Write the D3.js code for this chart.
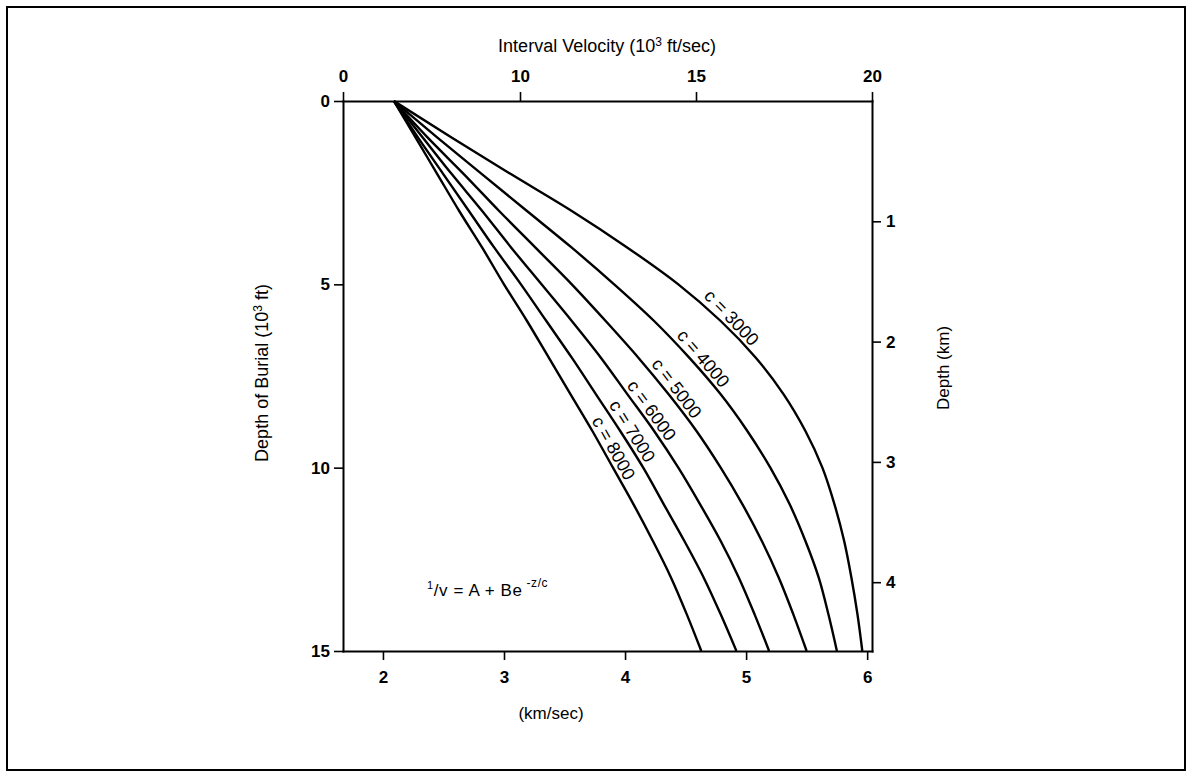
<!doctype html>
<html>
<head>
    <meta charset="utf-8">
    <script src="https://d3js.org/d3.v7.min.js"></script>
    <style>
        body { margin: 0; background: #fff; }
        text { font-family: "Liberation Sans", Arial, sans-serif; fill: #000; }
    </style>
</head>
<body>
    <script>
        var width = 1189;
        var height = 774;

        // depth of burial in 10^3 ft
        var depths = [0, 1, 2, 3, 4, 5, 6, 7, 8, 9, 10, 11, 12, 13, 14, 15];

        // interval velocity in km/sec
        var v3000 = [2.09, 2.57, 3.06, 3.56, 4.02, 4.44, 4.79, 5.08, 5.31, 5.49, 5.63, 5.73, 5.81, 5.87, 5.92, 5.96];
        var v4000 = [2.09, 2.45, 2.82, 3.19, 3.56, 3.91, 4.24, 4.53, 4.79, 5.01, 5.20, 5.36, 5.49, 5.60, 5.68, 5.75];
        var v5000 = [2.09, 2.37, 2.67, 2.96, 3.26, 3.56, 3.84, 4.11, 4.36, 4.59, 4.79, 4.97, 5.13, 5.27, 5.39, 5.50];
        var v6000 = [2.09, 2.33, 2.57, 2.82, 3.06, 3.31, 3.56, 3.80, 4.02, 4.24, 4.44, 4.62, 4.79, 4.94, 5.07, 5.19];
        var v7000 = [2.09, 2.29, 2.50, 2.71, 2.92, 3.14, 3.35, 3.56, 3.76, 3.96, 4.15, 4.32, 4.49, 4.65, 4.79, 4.92];
        var v8000 = [2.09, 2.27, 2.45, 2.63, 2.82, 3.00, 3.19, 3.37, 3.55, 3.73, 3.90, 4.07, 4.23, 4.38, 4.51, 4.63];

        var cValues = [3000, 4000, 5000, 6000, 7000, 8000];
        var labelDepths = [6.1, 7.2, 8.0, 8.6, 9.15, 9.6];

        var kmsTicks = [2, 3, 4, 5, 6];
        var ftsTicks = [0, 10, 15, 20];
        var ftTicks = [0, 5, 10, 15];
        var kmTicks = [1, 2, 3, 4];

        var series = [v3000, v4000, v5000, v6000, v7000, v8000];

        var plotLeft = 343, plotRight = 872, plotTop = 101, plotBottom = 651;

        var xScale = d3.scaleLinear().domain([1.67, 6.04]).range([plotLeft, plotRight]);
        var topScale = d3.scaleLinear().domain([0, 10, 20]).range([plotLeft, 520, plotRight]);
        var yScale = d3.scaleLinear().domain([0, 15]).range([plotTop, plotBottom]);
        var kmScale = d3.scaleLinear().domain([0, 15 * 0.3048]).range([plotTop, plotBottom]);

        var svg = d3.select("body")
                    .append("svg")
                    .attr("width", width)
                    .attr("height", height)
                    .style("background", "#fff");

        // outer frame
        svg.append("rect")
           .attr("x", 7).attr("y", 7)
           .attr("width", 1178).attr("height", 763)
           .attr("fill", "none")
           .attr("stroke", "#000")
           .attr("stroke-width", 2);

        function styleAxis(g) {
            g.attr("font-family", "'Liberation Sans', Arial, sans-serif")
             .attr("font-size", 17)
             .attr("font-weight", "bold");
            g.select(".domain").attr("stroke-width", 2).attr("stroke-linecap", "square");
            g.selectAll(".tick line").attr("stroke-width", 1.6);
        }

        var fmt = d3.format("d");

        svg.append("g")
           .attr("transform", "translate(0," + plotTop + ")")
           .call(d3.axisTop(topScale).tickValues(ftsTicks).tickFormat(fmt).tickSize(9).tickSizeOuter(0).tickPadding(10))
           .call(styleAxis);

        svg.append("g")
           .attr("transform", "translate(0," + plotBottom + ")")
           .call(d3.axisBottom(xScale).tickValues(kmsTicks).tickFormat(fmt).tickSize(9).tickSizeOuter(0).tickPadding(11))
           .call(styleAxis);

        svg.append("g")
           .attr("transform", "translate(" + plotLeft + ",0)")
           .call(d3.axisLeft(yScale).tickValues(ftTicks).tickFormat(fmt).tickSize(9).tickSizeOuter(0).tickPadding(4))
           .call(styleAxis);

        svg.append("g")
           .attr("transform", "translate(" + plotRight + ",0)")
           .call(d3.axisRight(kmScale).tickValues(kmTicks).tickFormat(fmt).tickSize(9).tickSizeOuter(0).tickPadding(5))
           .call(styleAxis);

        // curves
        var line = d3.line()
                     .x(function(d){ return xScale(d[0]); })
                     .y(function(d){ return yScale(d[1]); })
                     .curve(d3.curveMonotoneY);

        svg.selectAll("path.curve")
           .data(series)
           .enter()
           .append("path")
           .attr("class", "curve")
           .attr("d", function(vals){
               return line(vals.map(function(v, i){ return [v, depths[i]]; }));
           })
           .attr("fill", "none")
           .attr("stroke", "#000")
           .attr("stroke-width", 2.4);

        // curve labels sit along each curve
        svg.selectAll("text.clabel")
           .data(series)
           .enter()
           .append("text")
           .attr("class", "clabel")
           .attr("font-size", 18)
           .attr("text-anchor", "middle")
           .attr("dy", -4)
           .attr("transform", function(vals, k){
               var d = labelDepths[k];
               var i = Math.floor(d), t = d - i;
               var v = vals[i] + t * (vals[i + 1] - vals[i]);
               var x = xScale(v), y = yScale(d);
               var dx = xScale(vals[i + 1]) - xScale(vals[i]);
               var dy = yScale(depths[i + 1]) - yScale(depths[i]);
               var ang = Math.atan2(dy, dx) * 180 / Math.PI;
               return "translate(" + x + "," + y + ") rotate(" + ang + ")";
           })
           .text(function(vals, k){ return "c = " + cValues[k]; });

        // axis titles
        function titleWithSup(sel, before, after) {
            sel.append("tspan").text(before);
            sel.append("tspan").attr("font-size", 12).attr("dy", -6).text("3");
            sel.append("tspan").attr("dy", 6).text(after);
        }

        var t1 = svg.append("text")
                    .attr("x", 607).attr("y", 52)
                    .attr("text-anchor", "middle")
                    .attr("font-size", 18);
        titleWithSup(t1, "Interval Velocity (10", " ft/sec)");

        svg.append("text")
           .attr("x", 551).attr("y", 719)
           .attr("text-anchor", "middle")
           .attr("font-size", 17)
           .text("(km/sec)");

        var t2 = svg.append("text")
                    .attr("transform", "translate(268,373) rotate(-90)")
                    .attr("text-anchor", "middle")
                    .attr("font-size", 18);
        titleWithSup(t2, "Depth of Burial (10", " ft)");

        svg.append("text")
           .attr("transform", "translate(949,368) rotate(-90)")
           .attr("text-anchor", "middle")
           .attr("font-size", 17)
           .text("Depth (km)");

        // formula
        var f = svg.append("text")
                   .attr("x", 427).attr("y", 596)
                   .attr("font-size", 17)
                   .attr("letter-spacing", 0.6);
        f.append("tspan").attr("font-size", 11).attr("dy", -7).text("1");
        f.append("tspan").attr("dy", 7).text("/v = A + Be");
        f.append("tspan").attr("font-size", 12).attr("dy", -9).text(" -z/c");
    </script>
</body>
</html>
